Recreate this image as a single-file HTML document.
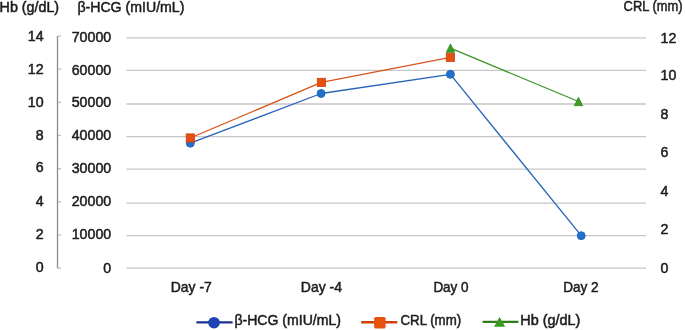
<!DOCTYPE html>
<html><head><meta charset="utf-8"><style>
html,body{margin:0;padding:0;background:#fff;width:685px;height:330px;overflow:hidden;}
svg{display:block;will-change:transform;filter:blur(0.3px);}
text{font-family:"Liberation Sans",sans-serif;fill:#1c1c1c;stroke:#1c1c1c;stroke-width:0.5px;}
</style></head><body>
<svg width="685" height="330" viewBox="0 0 685 330">
<rect width="685" height="330" fill="#fff"/>
<line x1="126.4" y1="37.80" x2="646" y2="37.80" stroke="#c6c6c6" stroke-width="1.3"/>
<line x1="126.4" y1="70.40" x2="646" y2="70.40" stroke="#c6c6c6" stroke-width="1.3"/>
<line x1="126.4" y1="104.00" x2="646" y2="104.00" stroke="#c6c6c6" stroke-width="1.3"/>
<line x1="126.4" y1="136.70" x2="646" y2="136.70" stroke="#c6c6c6" stroke-width="1.3"/>
<line x1="126.4" y1="169.20" x2="646" y2="169.20" stroke="#c6c6c6" stroke-width="1.3"/>
<line x1="126.4" y1="203.10" x2="646" y2="203.10" stroke="#c6c6c6" stroke-width="1.3"/>
<line x1="126.4" y1="235.70" x2="646" y2="235.70" stroke="#c6c6c6" stroke-width="1.3"/>
<line x1="126.4" y1="268.10" x2="646" y2="268.10" stroke="#c6c6c6" stroke-width="1.3"/>
<line x1="57.5" y1="36" x2="57.5" y2="268.4" stroke="#8a8a8a" stroke-width="1.3"/>
<line x1="58" y1="36.00" x2="61" y2="36.00" stroke="#bdbdbd" stroke-width="1.3"/>
<line x1="58" y1="69.17" x2="61" y2="69.17" stroke="#bdbdbd" stroke-width="1.3"/>
<line x1="58" y1="102.34" x2="61" y2="102.34" stroke="#bdbdbd" stroke-width="1.3"/>
<line x1="58" y1="135.51" x2="61" y2="135.51" stroke="#bdbdbd" stroke-width="1.3"/>
<line x1="58" y1="168.68" x2="61" y2="168.68" stroke="#bdbdbd" stroke-width="1.3"/>
<line x1="58" y1="201.85" x2="61" y2="201.85" stroke="#bdbdbd" stroke-width="1.3"/>
<line x1="58" y1="235.02" x2="61" y2="235.02" stroke="#bdbdbd" stroke-width="1.3"/>
<line x1="58" y1="268.19" x2="61" y2="268.19" stroke="#bdbdbd" stroke-width="1.3"/>
<text x="43.60" y="41.08" text-anchor="end" style="font-size:14.2px">14</text>
<text x="43.60" y="73.68" text-anchor="end" style="font-size:14.2px">12</text>
<text x="43.60" y="106.68" text-anchor="end" style="font-size:14.2px">10</text>
<text x="43.60" y="140.08" text-anchor="end" style="font-size:14.2px">8</text>
<text x="43.60" y="172.48" text-anchor="end" style="font-size:14.2px">6</text>
<text x="43.60" y="205.98" text-anchor="end" style="font-size:14.2px">4</text>
<text x="43.60" y="238.83" text-anchor="end" style="font-size:14.2px">2</text>
<text x="43.60" y="271.58" text-anchor="end" style="font-size:14.2px">0</text>
<text x="111.20" y="42.38" text-anchor="end" style="font-size:14.2px">70000</text>
<text x="111.20" y="74.68" text-anchor="end" style="font-size:14.2px">60000</text>
<text x="111.20" y="107.48" text-anchor="end" style="font-size:14.2px">50000</text>
<text x="111.20" y="140.28" text-anchor="end" style="font-size:14.2px">40000</text>
<text x="111.20" y="173.38" text-anchor="end" style="font-size:14.2px">30000</text>
<text x="111.20" y="206.38" text-anchor="end" style="font-size:14.2px">20000</text>
<text x="111.20" y="239.28" text-anchor="end" style="font-size:14.2px">10000</text>
<text x="111.20" y="272.78" text-anchor="end" style="font-size:14.2px">0</text>
<text x="660.60" y="42.68" text-anchor="start" style="font-size:14.2px">12</text>
<text x="660.60" y="80.08" text-anchor="start" style="font-size:14.2px">10</text>
<text x="660.60" y="119.38" text-anchor="start" style="font-size:14.2px">8</text>
<text x="660.60" y="157.08" text-anchor="start" style="font-size:14.2px">6</text>
<text x="660.60" y="195.78" text-anchor="start" style="font-size:14.2px">4</text>
<text x="660.60" y="233.88" text-anchor="start" style="font-size:14.2px">2</text>
<text x="660.60" y="272.98" text-anchor="start" style="font-size:14.2px">0</text>
<text x="-0.40" y="11.80" text-anchor="start" textLength="59.5" lengthAdjust="spacingAndGlyphs" style="font-size:14.2px">Hb (g/dL)</text>
<text x="77.40" y="11.80" text-anchor="start" textLength="107.0" lengthAdjust="spacingAndGlyphs" style="font-size:14.2px">β-HCG (mIU/mL)</text>
<text x="623.60" y="10.90" text-anchor="start" textLength="59.0" lengthAdjust="spacingAndGlyphs" style="font-size:14.2px">CRL (mm)</text>
<text x="191.30" y="292.00" text-anchor="middle" textLength="41.0" lengthAdjust="spacingAndGlyphs" style="font-size:14.2px">Day -7</text>
<text x="321.40" y="292.00" text-anchor="middle" textLength="41.2" lengthAdjust="spacingAndGlyphs" style="font-size:14.2px">Day -4</text>
<text x="451.00" y="292.00" text-anchor="middle" textLength="35.2" lengthAdjust="spacingAndGlyphs" style="font-size:14.2px">Day 0</text>
<text x="580.85" y="292.00" text-anchor="middle" textLength="35.4" lengthAdjust="spacingAndGlyphs" style="font-size:14.2px">Day 2</text>
<polyline points="190.3,143.2 321.1,93.5 450.4,74.3 581.2,235.7" fill="none" stroke="#2864b8" stroke-width="1.3" stroke-linejoin="round"/>
<polyline points="190.3,138.0 321.4,82.4 450.4,57.35" fill="none" stroke="#d9531a" stroke-width="1.3" stroke-linejoin="round"/>
<polyline points="450.5,48.1 578.5,101.5" fill="none" stroke="#3d962a" stroke-width="1.3" stroke-linejoin="round"/>
<circle cx="190.3" cy="143.2" r="4.0" fill="#2170cc" stroke="#1b5fb3" stroke-width="0.8"/>
<circle cx="321.1" cy="93.5" r="4.0" fill="#2170cc" stroke="#1b5fb3" stroke-width="0.8"/>
<circle cx="450.4" cy="74.3" r="4.0" fill="#2170cc" stroke="#1b5fb3" stroke-width="0.8"/>
<circle cx="581.2" cy="235.7" r="4.0" fill="#2170cc" stroke="#1b5fb3" stroke-width="0.8"/>
<polygon points="450.50,43.90 454.70,52.30 446.30,52.30" fill="#3f9a26" stroke="#2f8a1e" stroke-width="0.8"/>
<polygon points="578.50,97.30 582.70,105.70 574.30,105.70" fill="#3f9a26" stroke="#2f8a1e" stroke-width="0.8"/>
<rect x="186.20" y="133.90" width="8.2" height="8.2" fill="#e6500e" stroke="#c8420d" stroke-width="0.8"/>
<rect x="317.30" y="78.30" width="8.2" height="8.2" fill="#e6500e" stroke="#c8420d" stroke-width="0.8"/>
<rect x="446.30" y="53.25" width="8.2" height="8.2" fill="#e6500e" stroke="#c8420d" stroke-width="0.8"/>
<line x1="196.4" y1="322.4" x2="232.6" y2="322.4" stroke="#1a2f8f" stroke-width="2.4"/>
<circle cx="214" cy="322.7" r="5.8" fill="#1f43b3"/>
<text x="234.40" y="325.30" text-anchor="start" textLength="106.6" lengthAdjust="spacingAndGlyphs" style="font-size:14.2px">β-HCG (mIU/mL)</text>
<line x1="361.2" y1="322.2" x2="397.3" y2="322.2" stroke="#d2400c" stroke-width="2.4"/>
<rect x="374.1" y="317.0" width="11.5" height="11.5" rx="1.5" fill="#e8520f"/>
<text x="400.50" y="325.30" text-anchor="start" textLength="60.6" lengthAdjust="spacingAndGlyphs" style="font-size:14.2px">CRL (mm)</text>
<line x1="482.6" y1="321.9" x2="518.4" y2="321.9" stroke="#2f7d1d" stroke-width="2.4"/>
<polygon points="499.6,317.1 505.2,326.7 494,326.7" fill="#3c9a24"/>
<text x="520.30" y="325.30" text-anchor="start" textLength="60.0" lengthAdjust="spacingAndGlyphs" style="font-size:14.2px">Hb (g/dL)</text>
</svg>
</body></html>
